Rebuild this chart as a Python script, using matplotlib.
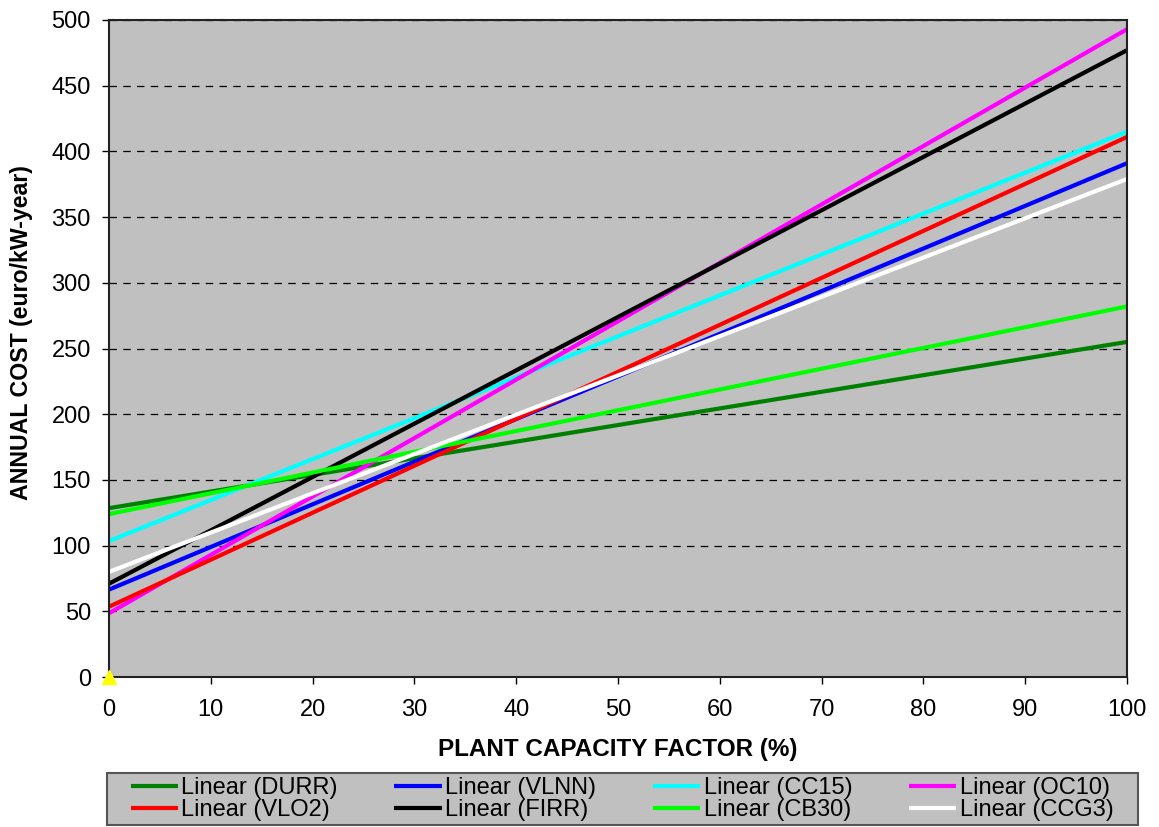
import matplotlib.pyplot as plt
from matplotlib.patches import Rectangle

plt.rcParams['font.family'] = ['Liberation Sans', 'DejaVu Sans']

# factor de planta (%) y costo anual (euro/kW-year) en los extremos de cada recta
capacidad = [0, 100]
series = ["DURR", "VLNN", "CC15", "OC10", "VLO2", "FIRR", "CB30", "CCG3"]
costo_inicial = [128.5, 66.5, 103.5, 48.5, 53.5, 71, 124, 80]
costo_final = [255, 391, 415, 493, 411, 477, 282, 379]
colores = ["#008000", "#0000ff", "#00ffff", "#ff00ff", "#ff0000", "#000000", "#00ff00", "#ffffff"]

W, H = 1159, 827
fig = plt.figure(figsize=(W / 100, H / 100), dpi=100)
ax = fig.add_axes([109 / W, 1 - 677 / H, (1127 - 109) / W, (677 - 20) / H])
ax.set_facecolor("#c0c0c0")

lineas = {}
for nombre, y0, y1, c in zip(series, costo_inicial, costo_final, colores):
    l, = ax.plot(capacidad, [y0, y1], color=c, lw=3, solid_capstyle="butt",
                 label="Linear (" + nombre + ")")
    lineas[nombre] = l

# marcador amarillo en el origen
ax.plot([0], [0], marker="^", color="#ffff00", markersize=10, clip_on=False, zorder=5)

ax.set_xlim(0, 100)
ax.set_ylim(0, 500)
ax.set_xticks(range(0, 101, 10))
ax.set_yticks(range(0, 501, 50))
ax.yaxis.grid(True, color="black", linestyle=(0, (6, 5)), lw=0.9)
ax.set_axisbelow(True)
for s in ax.spines.values():
    s.set_linewidth(1.5)
    s.set_color("#222222")
ax.tick_params(labelsize=17, length=5, direction="out", width=1)
ax.tick_params(axis="x", pad=11)
ax.tick_params(axis="y", pad=8)

ax.set_xlabel("PLANT CAPACITY FACTOR (%)", fontsize=17.5, fontweight="bold", labelpad=12)
ax.set_ylabel("ANNUAL COST (euro/kW-year)", fontsize=16.7, fontweight="bold")
ax.yaxis.set_label_coords(-0.0747, 0.524)

# recuadro de la leyenda
fig.patches.append(Rectangle((107 / W, 1 - 825 / H), (1138 - 107) / W, (825 - 773) / H,
                             transform=fig.transFigure, facecolor="#c0c0c0",
                             edgecolor="#555555", lw=1.5, zorder=0))

orden = ["DURR", "VLO2", "VLNN", "FIRR", "CC15", "CB30", "OC10", "CCG3"]
leg = fig.legend([lineas[n] for n in orden], ["Linear (" + n + ")" for n in orden],
                 ncol=4, loc="center", bbox_to_anchor=(622 / W, 1 - 799 / H),
                 fontsize=17, frameon=False, handlelength=2.0,
                 handletextpad=0.15, columnspacing=2.4, labelspacing=0.0,
                 borderpad=0)

plt.savefig("out.png", dpi=100)
